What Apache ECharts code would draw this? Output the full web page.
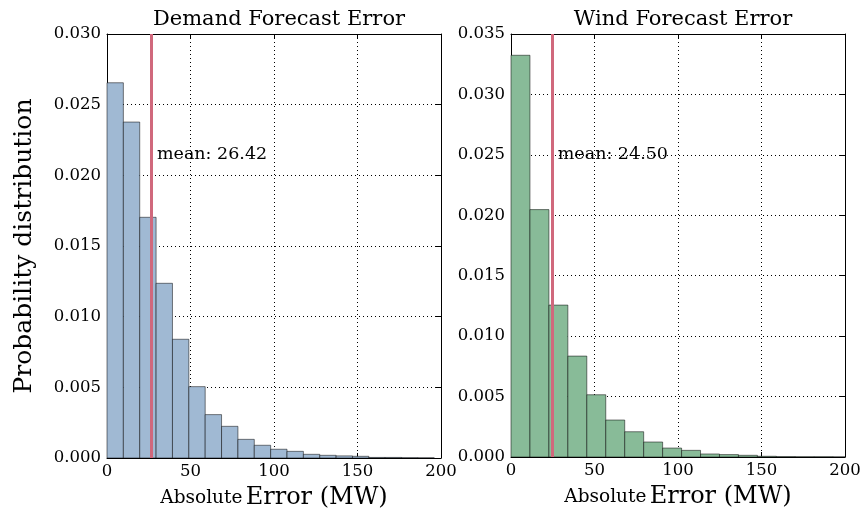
<!DOCTYPE html>
<html>
<head>
<meta charset="utf-8">
<script src="https://cdn.jsdelivr.net/npm/echarts@6/dist/echarts.min.js"></script>
<style>
  html, body { margin: 0; padding: 0; background: #fff; overflow: hidden; }
  #chart { width: 862px; height: 508px; }
</style>
</head>
<body>
<div id="chart"></div>
<script>
// histogram data
var demandBinWidth = 9.8;
var demandDensity = [0.02655, 0.02377, 0.01703, 0.01236, 0.0084, 0.00505, 0.00307, 0.00224,
  0.00132, 0.0009, 0.00062, 0.00047, 0.00026, 0.00019, 0.00015, 0.00012, 0.00004, 0.00004, 0.00002, 0.00001];
var demandMean = 26.42;

var windBinWidth = 11.35;
var windDensity = [0.03324, 0.02047, 0.01257, 0.00835, 0.00515, 0.00306, 0.00209, 0.00124,
  0.00074, 0.00055, 0.00025, 0.0002, 0.00014, 0.00006, 0.00003, 0.00002, 0.00002, 0.00001];
var windMean = 24.5;

var titles = ['Demand Forecast Error', 'Wind Forecast Error'];

var font = 'DejaVu Serif';

function toBins(dens, w) {
  return dens.map(function (d, i) { return [i * w, (i + 1) * w, d]; });
}

function renderBar(params, api) {
  var p0 = api.coord([api.value(0), api.value(2)]);
  var p1 = api.coord([api.value(1), 0]);
  var rect = echarts.graphic.clipRectByRect({
    x: p0[0], y: p0[1], width: p1[0] - p0[0], height: p1[1] - p0[1]
  }, params.coordSys);
  if (!rect) return;
  return {
    type: 'rect',
    shape: rect,
    style: api.style({ lineWidth: 1 })
  };
}

var chart = echarts.init(document.getElementById('chart'));

// fixed plot boxes, no auto shrinking for labels
var grids = [
  { left: 107, top: 34, width: 334, height: 424, outerBoundsMode: 'none', containLabel: false },
  { left: 511, top: 34, width: 334, height: 423, outerBoundsMode: 'none', containLabel: false }
];

var gridLine = { show: true, lineStyle: { color: '#000', type: [1, 3], width: 1 } };
var axisLine = { show: true, onZero: false, lineStyle: { color: '#000', width: 1 } };
var tick = { show: true, inside: true, length: 5, lineStyle: { color: '#000' } };
var labelStyle = { fontFamily: font, fontSize: 16.5, color: '#000' };

function xAxes(i) {
  return [{
    type: 'value', gridIndex: i, min: 0, max: 200, interval: 50,
    axisLine: axisLine, axisTick: tick, splitLine: gridLine,
    axisLabel: Object.assign({ margin: 5 }, labelStyle),
    name: '{a|Absolute} {b|Error (MW)}', nameLocation: 'middle', nameGap: 28,
    nameTextStyle: {
      rich: {
        a: { fontFamily: font, fontSize: 18.5, color: '#000' },
        b: { fontFamily: font, fontSize: 24, color: '#000' }
      }
    }
  }, {
    type: 'value', gridIndex: i, position: 'top', min: 0, max: 200, interval: 50,
    axisLine: axisLine, axisTick: tick, splitLine: { show: false }, axisLabel: { show: false }
  }];
}

function yAxes(i, max) {
  return [{
    type: 'value', gridIndex: i, min: 0, max: max, interval: 0.005,
    axisLine: axisLine, axisTick: tick, splitLine: gridLine,
    axisLabel: Object.assign({ margin: 6, formatter: function (v) { return v.toFixed(3); } }, labelStyle),
    name: i === 0 ? 'Probability distribution' : '', nameLocation: 'middle', nameGap: 70, nameRotate: 90,
    nameTextStyle: { fontFamily: font, fontSize: 25, color: '#000' }
  }, {
    type: 'value', gridIndex: i, position: 'right', min: 0, max: max, interval: 0.005,
    axisLine: axisLine, axisTick: tick, splitLine: { show: false }, axisLabel: { show: false }
  }];
}

function histSeries(i, dens, w, color, mean) {
  return {
    type: 'custom', xAxisIndex: i * 2, yAxisIndex: i * 2,
    renderItem: renderBar,
    itemStyle: { color: color, borderColor: 'rgba(0,0,0,0.5)', borderWidth: 1 },
    encode: { x: [0, 1], y: 2 },
    data: toBins(dens, w),
    markLine: {
      silent: true, symbol: 'none', animation: false,
      label: { show: false },
      lineStyle: { color: '#d0687c', width: 3, type: 'solid' },
      data: [{ xAxis: mean }]
    },
    z: 2
  };
}

function meanLabel(i, mean, yPos) {
  return {
    type: 'scatter', xAxisIndex: i * 2, yAxisIndex: i * 2,
    symbolSize: 0, silent: true,
    itemStyle: { opacity: 1 },
    data: [[mean + 3.5, yPos]],
    label: {
      show: true, position: 'right', distance: 0,
      formatter: 'mean: ' + mean.toFixed(2),
      fontFamily: font, fontSize: 17.5, color: '#000'
    },
    z: 5
  };
}

chart.setOption({
  animation: false,
  title: [
    { text: titles[0], left: 274, top: 4, textAlign: 'center',
      textStyle: { fontFamily: font, fontSize: 21, fontWeight: 'normal', color: '#000' } },
    { text: titles[1], left: 678, top: 4, textAlign: 'center',
      textStyle: { fontFamily: font, fontSize: 21, fontWeight: 'normal', color: '#000' } }
  ],
  grid: grids,
  xAxis: xAxes(0).concat(xAxes(1)),
  yAxis: yAxes(0, 0.030).concat(yAxes(1, 0.035)),
  series: [
    histSeries(0, demandDensity, demandBinWidth, '#a0b9d3', demandMean),
    histSeries(1, windDensity, windBinWidth, '#88bb98', windMean),
    meanLabel(0, demandMean, 0.0215),
    meanLabel(1, windMean, 0.0250)
  ]
});
</script>
</body>
</html>
